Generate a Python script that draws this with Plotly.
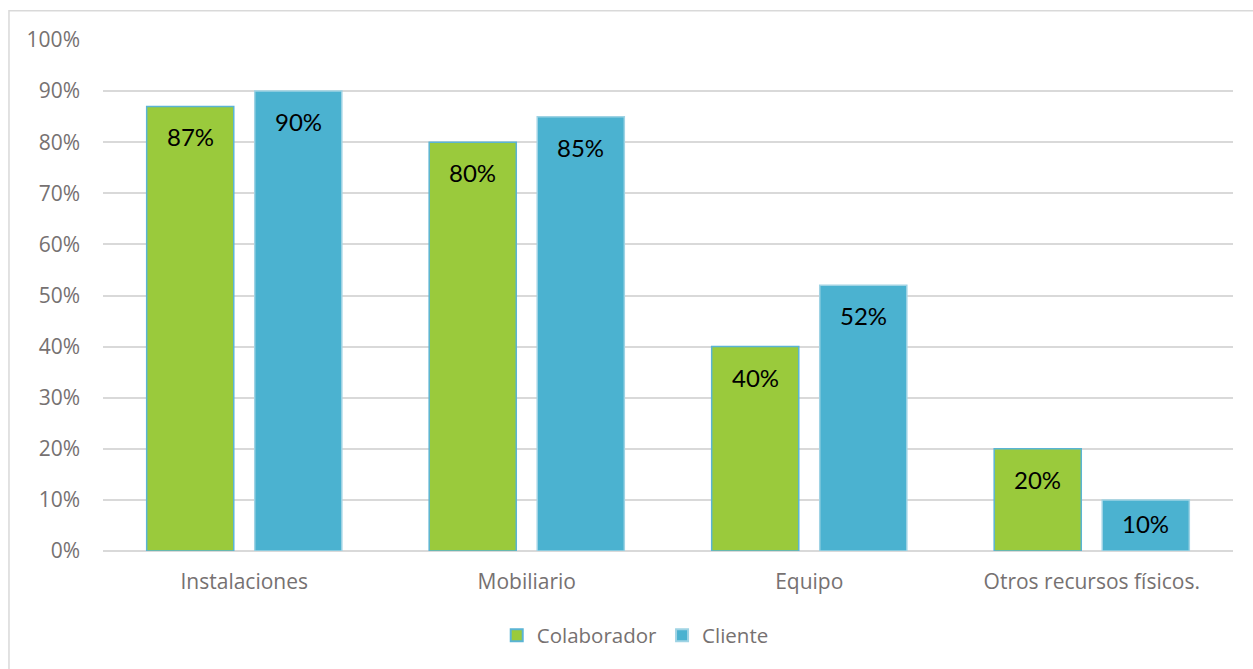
import plotly.graph_objects as go

categorias = ["Instalaciones", "Mobiliario", "Equipo", "Otros recursos físicos."]
colaborador = [87, 80, 40, 20]
cliente = [90, 85, 52, 10]
ticks_y = [0, 10, 20, 30, 40, 50, 60, 70, 80, 90, 100]
ticks_txt = [f"{v}%" for v in ticks_y]

VERDE = "#9aca3c"
AZUL = "#4bb2d0"
FUENTE_EJES = "'Open Sans', sans-serif"
FUENTE_DATOS = "Lato, 'Open Sans', sans-serif"
GRIS = "#767171"

fig = go.Figure()
fig.add_trace(go.Bar(
    name="Colaborador", x=categorias, y=colaborador,
    marker=dict(color=VERDE, line=dict(color="#5ab4d4", width=1.5)),
))
fig.add_trace(go.Bar(
    name="Cliente", x=categorias, y=cliente,
    marker=dict(color=AZUL, line=dict(color="#9fd3e4", width=1.5)),
))

# Value labels inside each bar: near the top, or centred when the bar is short
n = len(categorias)
for vals, off in ((colaborador, -0.191), (cliente, 0.191)):
    for i, v in enumerate(vals):
        if v >= 15:
            fig.add_annotation(x=i + off, y=v, xref="x", yref="y",
                               text=f"{v}%", showarrow=False,
                               yanchor="top", yshift=-14,
                               font=dict(family=FUENTE_DATOS, size=24, color="#000000"))
        else:
            fig.add_annotation(x=i + off, y=v / 2, xref="x", yref="y",
                               text=f"{v}%", showarrow=False,
                               yanchor="middle", yshift=2,
                               font=dict(family=FUENTE_DATOS, size=24, color="#000000"))

# Chart frame
fig.add_shape(type="rect", xref="paper", yref="paper",
              x0=-0.0832, x1=1.2, y0=-0.5, y1=1.057,
              line=dict(color="#d9d9d9", width=1.5), fillcolor="rgba(0,0,0,0)",
              layer="below")

fig.update_layout(
    width=1253, height=669,
    margin=dict(l=103, r=20, t=40, b=118),
    paper_bgcolor="white", plot_bgcolor="white",
    barmode="group", bargap=0.235, bargroupgap=0.194,
    font=dict(family=FUENTE_EJES, color=GRIS, size=21),
    legend=dict(orientation="h", x=0.471, xanchor="center", y=-0.126, yanchor="top",
                font=dict(family=FUENTE_EJES, size=20.5, color=GRIS), itemsizing="constant",
                traceorder="normal"),
    xaxis=dict(type="category", range=[-0.5, n - 0.5], showgrid=False, showline=False,
               ticks="", ticklabelstandoff=16, tickfont=dict(size=21, color=GRIS)),
    yaxis=dict(range=[0, 100], tickvals=ticks_y, ticktext=ticks_txt,
               showgrid=True, gridcolor="#d9d9d9", gridwidth=2,
               zeroline=True, zerolinecolor="#d9d9d9", zerolinewidth=2,
               showline=False, ticks="", ticklabelstandoff=22,
               tickfont=dict(size=21, color=GRIS)),
)

fig.write_html("out.html")
